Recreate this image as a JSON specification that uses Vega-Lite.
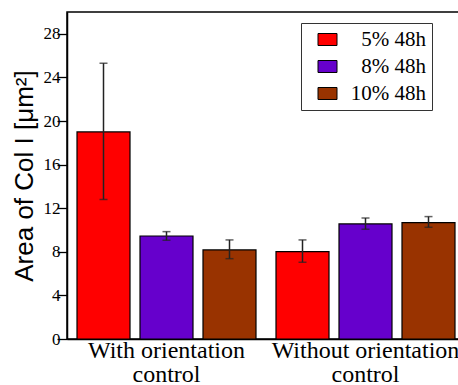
{
  "$schema": "https://vega.github.io/schema/vega-lite/v6.json",
  "width": 398,
  "height": 327,
  "autosize": "none",
  "padding": {"left": 67, "top": 12, "right": 0, "bottom": 46},
  "background": "white",
  "config": {
    "view": {"stroke": "black", "strokeWidth": 1.5},
    "axis": {"domainColor": "black", "domainWidth": 1.5, "tickColor": "black", "labelColor": "black", "titleColor": "black"}
  },
  "data": {
    "values": [
      {"group": "With orientation control", "series": "5% 48h", "mean": 19.0, "lo": 12.8, "hi": 25.3},
      {"group": "With orientation control", "series": "8% 48h", "mean": 9.45, "lo": 9.06, "hi": 9.85},
      {"group": "With orientation control", "series": "10% 48h", "mean": 8.17, "lo": 7.37, "hi": 9.09},
      {"group": "Without orientation control", "series": "5% 48h", "mean": 8.02, "lo": 7.04, "hi": 9.09},
      {"group": "Without orientation control", "series": "8% 48h", "mean": 10.56, "lo": 10.07, "hi": 11.1},
      {"group": "Without orientation control", "series": "10% 48h", "mean": 10.68, "lo": 10.25, "hi": 11.23}
    ]
  },
  "encoding": {
    "x": {
      "field": "group", "type": "nominal", "sort": null,
      "scale": {"paddingInner": 0.05025, "paddingOuter": 0.02513},
      "axis": {
        "title": null, "labelAngle": 0, "ticks": false,
        "labelFont": "Liberation Serif", "labelFontSize": 24, "labelPadding": -1,
        "labelLineHeight": 24, "labelBaseline": "top", "labelLimit": 0,
        "labelExpr": "datum.value == 'With orientation control' ? ['With orientation', 'control'] : ['Without orientation', 'control']"
      }
    },
    "xOffset": {
      "field": "series", "type": "nominal", "sort": ["5% 48h", "8% 48h", "10% 48h"],
      "scale": {"paddingInner": 0.1587, "paddingOuter": 0.0794}
    }
  },
  "layer": [
    {
      "mark": {"type": "bar", "stroke": "black", "strokeWidth": 1.2},
      "encoding": {
        "y": {
          "field": "mean", "type": "quantitative",
          "scale": {"domain": [0, 30], "nice": false},
          "axis": {
            "title": "Area of Col I [μm²]",
            "titleFont": "Liberation Sans", "titleFontSize": 26, "titleFontWeight": "normal", "titlePadding": 6,
            "values": [0, 2, 4, 6, 8, 10, 12, 14, 16, 18, 20, 22, 24, 26, 28],
            "labelExpr": "datum.value % 4 == 0 ? datum.label : ''",
            "labelFont": "Liberation Serif", "labelFontSize": 17, "labelPadding": -3,
            "tickSize": 10,
            "tickWidth": 1.3,
            "encode": {"ticks": {"update": {"x2": {"signal": "datum.value % 4 == 0 ? 10 : 5"}}}},
            "grid": false
          }
        },
        "color": {
          "field": "series", "type": "nominal",
          "sort": ["5% 48h", "8% 48h", "10% 48h"],
          "scale": {"domain": ["5% 48h", "8% 48h", "10% 48h"], "range": ["#ff0000", "#6600cc", "#993300"]},
          "legend": {
            "title": null, "orient": "none", "legendX": 234, "legendY": 11,
            "strokeColor": "#333333", "padding": 6,
            "symbolType": "M-1,-0.63L1,-0.63L1,0.63L-1,0.63Z", "symbolSize": 361,
            "symbolStrokeColor": "black", "symbolStrokeWidth": 1, "symbolOffset": 10,
            "labelFont": "Liberation Serif", "labelFontSize": 21, "labelColor": "black",
            "labelAlign": "right", "labelOffset": 88, "rowPadding": 5
          }
        }
      }
    },
    {
      "mark": {"type": "rule", "color": "#222222", "strokeWidth": 1.5},
      "encoding": {
        "y": {"field": "lo", "type": "quantitative"},
        "y2": {"field": "hi"}
      }
    },
    {
      "mark": {"type": "tick", "color": "#222222", "thickness": 1.5, "size": 8},
      "encoding": {"y": {"field": "hi", "type": "quantitative"}}
    },
    {
      "mark": {"type": "tick", "color": "#222222", "thickness": 1.5, "size": 8},
      "encoding": {"y": {"field": "lo", "type": "quantitative"}}
    }
  ]
}
